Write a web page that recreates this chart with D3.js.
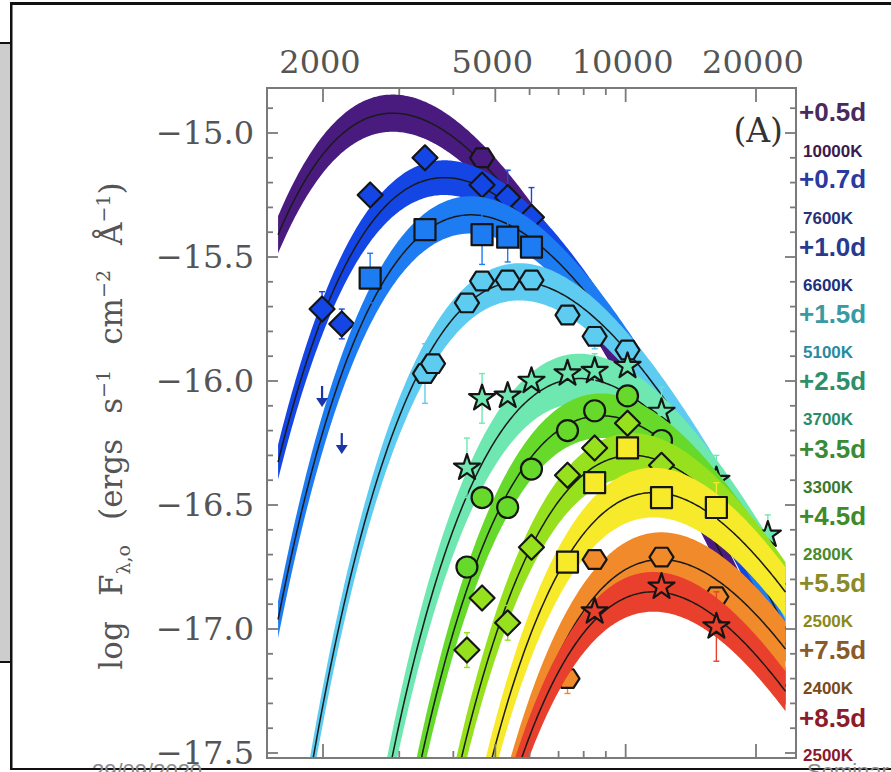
<!DOCTYPE html>
<html>
<head>
<meta charset="utf-8">
<script src="https://cdn.jsdelivr.net/npm/d3@7"></script>
<style>
  html, body { margin: 0; padding: 0; background: #fff; }
  svg { display: block; }
</style>
</head>
<body>
<div id="chart"></div>
<script>
// filters (effective wavelength, Angstrom)
const filterNames = ["W2", "M2", "W1", "U", "u", "B", "g", "V", "r", "i", "z", "Y", "J", "H", "K"];
const filterWave = [1990, 2210, 2570, 3440, 3590, 4300, 4660, 5340, 6060, 7340, 8480, 10100, 12100, 16200, 21300];

// epochs and blackbody fits
const epochs = ["+0.5d", "+0.7d", "+1.0d", "+1.5d", "+2.5d", "+3.5d", "+4.5d", "+5.5d", "+7.5d", "+8.5d"];
const temps = [10000, 7600, 6600, 5100, 3700, 3300, 2800, 2500, 2400, 2500];
const peakLogF = [-14.92, -15.18, -15.33, -15.60, -15.99, -16.14, -16.30, -16.45, -16.72, -16.85];
const bandHalf = [0.075, 0.07, 0.075, 0.075, 0.1, 0.09, 0.09, 0.1, 0.11, 0.08];
const symbols = ["hexagon", "diamond", "square", "hexagon", "star", "circle", "diamond", "square", "hexagon", "star"];
const bandColors = ["#4a1b7e", "#1446e6", "#1e7cf2", "#5ecbf0", "#6ee8b0", "#66d92a", "#96e01e", "#f6ea2a", "#f08a2a", "#e8402c"];
const dayColors = ["#4a2a5e", "#2a3aa0", "#283a8e", "#3a9aa2", "#2f8f68", "#3a8a36", "#3f8a2a", "#8a8a2a", "#8a5a2a", "#8c1c2c"];
const tempColors = ["#3a1a4c", "#283278", "#20307c", "#2a8aa2", "#2a8a6a", "#3a7a2a", "#4a8a2a", "#8a8a1a", "#7a4a1a", "#8a1a2a"];

// photometry: [filter, log F, error]
const phot05 = [["g", -15.10, 0]];
const phot07 = [["W2", -15.71, 0.07], ["M2", -15.77, 0.06], ["W1", -15.25, 0], ["U", -15.10, 0], ["g", -15.21, 0], ["V", -15.26, 0.11], ["r", -15.34, 0.12]];
const phot10 = [["W1", -15.585, 0.1], ["U", -15.39, 0], ["g", -15.41, 0.12], ["V", -15.42, 0.1], ["r", -15.46, 0]];
const phot15 = [["U", -15.97, 0.12], ["u", -15.93, 0], ["B", -15.685, 0], ["g", -15.597, 0], ["V", -15.593, 0], ["r", -15.593, 0], ["i", -15.734, 0], ["z", -15.82, 0.05], ["Y", -15.875, 0]];
const phot25 = [["B", -16.35, 0.12], ["g", -16.07, 0.1], ["V", -16.06, 0], ["r", -16.00, 0], ["i", -15.97, 0], ["z", -15.96, 0.07], ["Y", -15.94, 0], ["J", -16.125, 0.1], ["H", -16.40, 0.1], ["K", -16.62, 0.08]];
const phot35 = [["B", -16.75, 0], ["g", -16.47, 0], ["V", -16.51, 0], ["r", -16.355, 0], ["i", -16.20, 0], ["z", -16.12, 0], ["Y", -16.06, 0], ["J", -16.24, 0]];
const phot45 = [["B", -17.085, 0.07], ["g", -16.875, 0], ["V", -16.975, 0.07], ["r", -16.67, 0], ["i", -16.38, 0], ["z", -16.27, 0], ["Y", -16.17, 0], ["J", -16.34, 0]];
const phot55 = [["i", -16.73, 0], ["z", -16.41, 0], ["Y", -16.27, 0], ["J", -16.47, 0], ["H", -16.51, 0.1]];
const phot75 = [["i", -17.20, 0.06], ["z", -16.72, 0], ["J", -16.71, 0], ["H", -16.87, 0]];
const phot85 = [["z", -16.93, 0], ["J", -16.83, 0], ["H", -16.99, 0.14]];
const photometry = [phot05, phot07, phot10, phot15, phot25, phot35, phot45, phot55, phot75, phot85];
const upperLimits = [["W2", -16.02], ["M2", -16.21]];

const xMajor = [2000, 5000, 10000, 20000];
const xMinor = [3000, 4000, 6000, 7000, 8000, 9000];
const yMajor = [-17.5, -17.0, -16.5, -16.0, -15.5, -15.0];

const W = 891, H = 772;
const frame = { left: 267, right: 796, top: 88, bottom: 758 };
const lamRange = [1575, 23400];

const svg = d3.select("#chart").append("svg").attr("width", W).attr("height", H);
svg.append("rect").attr("width", W).attr("height", H).attr("fill", "#fff");

// slide decoration
svg.append("rect").attr("x", 0).attr("y", 44).attr("width", 10).attr("height", 617).attr("fill", "#cdcdcd");
svg.append("rect").attr("x", 0).attr("y", 42).attr("width", 11).attr("height", 2).attr("fill", "#111");
svg.append("rect").attr("x", 0).attr("y", 661).attr("width", 11).attr("height", 2).attr("fill", "#111");
svg.append("rect").attr("x", 10).attr("y", 2).attr("width", W - 10).attr("height", 3).attr("fill", "#111");
svg.append("rect").attr("x", 10).attr("y", 2).attr("width", 2.5).attr("height", 768).attr("fill", "#111");
svg.append("rect").attr("x", 10).attr("y", 768).attr("width", W - 10).attr("height", 2).attr("fill", "#111");

const x = d3.scaleLog().domain([2000, 20000]).range([323, 756]);
const y = d3.scaleLinear().domain([-17.5, -15.0]).range([753, 133]);
const waveOf = f => filterWave[filterNames.indexOf(f)];

svg.append("defs").append("clipPath").attr("id", "plotclip")
  .append("rect")
  .attr("x", frame.left).attr("y", frame.top)
  .attr("width", frame.right - frame.left).attr("height", frame.bottom - frame.top);

function logBB(lam, T) {
  return -5 * Math.log10(lam) - Math.log10(Math.expm1(1.4388e8 / (lam * T)));
}

const grid = d3.range(0, 301).map(i => lamRange[0] * Math.pow(lamRange[1] / lamRange[0], i / 300));

function symbolPath(kind) {
  if (kind === "hexagon") {
    const r = 12;
    return d3.line()(d3.range(6).map(k => [r * Math.cos(k * Math.PI / 3), r * Math.sin(k * Math.PI / 3) * 0.9])) + "Z";
  }
  if (kind === "diamond") {
    const r = 12.5;
    return `M0,${-r}L${r},0L0,${r}L${-r},0Z`;
  }
  if (kind === "square") return d3.symbol(d3.symbolSquare, 441)();
  if (kind === "circle") return d3.symbol(d3.symbolCircle, Math.PI * 10.5 * 10.5)();
  return d3.symbol(d3.symbolStar, 210)();
}

const plot = svg.append("g").attr("clip-path", "url(#plotclip)");

epochs.forEach((ep, i) => {
  const T = temps[i];
  const lp = 2.8978e7 / T;
  const model = grid.map(l => [l, peakLogF[i] + logBB(l, T) - logBB(lp, T)]);
  const g = plot.append("g").attr("class", "epoch");

  g.append("path")
    .datum(model)
    .attr("fill", bandColors[i])
    .attr("d", d3.area()
      .x(d => x(d[0]))
      .y0(d => y(d[1] - bandHalf[i]))
      .y1(d => y(d[1] + bandHalf[i])));

  g.append("path")
    .datum(model)
    .attr("fill", "none")
    .attr("stroke", "#1a1a1a")
    .attr("stroke-width", 1.5)
    .attr("d", d3.line().x(d => x(d[0])).y(d => y(d[1])));

  const pts = photometry[i];
  const eb = g.selectAll("g.err").data(pts.filter(d => d[2] > 0)).join("g").attr("class", "err")
    .attr("stroke", bandColors[i]).attr("stroke-width", 1.4);
  eb.append("line")
    .attr("x1", d => x(waveOf(d[0]))).attr("x2", d => x(waveOf(d[0])))
    .attr("y1", d => y(d[1] - d[2])).attr("y2", d => y(d[1] + d[2]));
  eb.append("line")
    .attr("x1", d => x(waveOf(d[0])) - 3).attr("x2", d => x(waveOf(d[0])) + 3)
    .attr("y1", d => y(d[1] + d[2])).attr("y2", d => y(d[1] + d[2]));
  eb.append("line")
    .attr("x1", d => x(waveOf(d[0])) - 3).attr("x2", d => x(waveOf(d[0])) + 3)
    .attr("y1", d => y(d[1] - d[2])).attr("y2", d => y(d[1] - d[2]));

  g.selectAll("path.pt").data(pts).join("path").attr("class", "pt")
    .attr("d", symbolPath(symbols[i]))
    .attr("transform", d => `translate(${x(waveOf(d[0]))},${y(d[1])})`)
    .attr("fill", bandColors[i])
    .attr("stroke", "#151515")
    .attr("stroke-width", 2.2)
    .attr("stroke-linejoin", "round");
});

// upper limits
const ul = plot.append("g").attr("stroke", "#1a36a8").attr("fill", "#1a36a8").attr("stroke-width", 2.2);
upperLimits.forEach(d => {
  const px = x(waveOf(d[0])), py = y(d[1]);
  ul.append("line").attr("x1", px).attr("x2", px).attr("y1", py).attr("y2", py + 18);
  ul.append("path").attr("stroke", "none")
    .attr("d", `M${px - 6},${py + 12}L${px + 6},${py + 12}L${px},${py + 21}Z`);
});

// frame and ticks
const axisColor = "#7a7a7a";
svg.append("rect")
  .attr("x", frame.left).attr("y", frame.top)
  .attr("width", frame.right - frame.left).attr("height", frame.bottom - frame.top)
  .attr("fill", "none").attr("stroke", axisColor).attr("stroke-width", 2);

const ticks = svg.append("g").attr("stroke", axisColor).attr("stroke-width", 1.8);
xMajor.concat(xMinor).forEach(v => {
  const len = xMajor.includes(v) ? 14 : 7;
  ticks.append("line").attr("x1", x(v)).attr("x2", x(v)).attr("y1", frame.top).attr("y2", frame.top + len);
  ticks.append("line").attr("x1", x(v)).attr("x2", x(v)).attr("y1", frame.bottom).attr("y2", frame.bottom - len);
});
d3.range(-175, -148).map(v => v / 10).forEach(v => {
  const major = Math.abs(v * 2 - Math.round(v * 2)) < 1e-6;
  const len = major ? 11 : 6;
  ticks.append("line").attr("x1", frame.left).attr("x2", frame.left + len).attr("y1", y(v)).attr("y2", y(v));
  ticks.append("line").attr("x1", frame.right).attr("x2", frame.right - len).attr("y1", y(v)).attr("y2", y(v));
});

const serif = "'DejaVu Serif', 'Liberation Serif', serif";
svg.append("g").selectAll("text").data(xMajor).join("text")
  .attr("x", d => x(d) - 3).attr("y", 73)
  .attr("text-anchor", "middle")
  .attr("font-family", serif).attr("font-size", 32).attr("fill", "#555")
  .text(d => d);

svg.append("g").selectAll("text").data(yMajor).join("text")
  .attr("x", 254).attr("y", d => y(d) + 11)
  .attr("text-anchor", "end")
  .attr("font-family", serif).attr("font-size", 32).attr("fill", "#555")
  .text(d => "\u2212" + Math.abs(d).toFixed(1));

// y axis title
const yt = svg.append("text")
  .attr("transform", "translate(122,426) rotate(-90)")
  .attr("text-anchor", "middle")
  .attr("font-family", serif).attr("font-size", 31).attr("fill", "#555");
yt.append("tspan").text("log F");
yt.append("tspan").attr("dy", 8).attr("font-size", 19).text("\u03bb,o");
yt.append("tspan").attr("dy", -8).text(" (ergs s");
yt.append("tspan").attr("dy", -12).attr("font-size", 19).text("\u22121");
yt.append("tspan").attr("dy", 12).text(" cm");
yt.append("tspan").attr("dy", -12).attr("font-size", 19).text("\u22122");
yt.append("tspan").attr("dy", 12).text(" \u00c5");
yt.append("tspan").attr("dy", -12).attr("font-size", 19).text("\u22121");
yt.append("tspan").attr("dy", 12).text(")");
const len0 = yt.node().getComputedTextLength();
yt.attr("word-spacing", Math.max(0, (472 - len0) / 4));

svg.append("text")
  .attr("x", 783).attr("y", 142)
  .attr("text-anchor", "end")
  .attr("font-family", serif).attr("font-size", 33).attr("fill", "#333")
  .text("(A)");

// right-hand labels
const sans = "'Liberation Sans', Arial, sans-serif";
svg.append("g").selectAll("text").data(epochs).join("text")
  .attr("x", 799).attr("y", (d, i) => 121 + i * 67.3)
  .attr("font-family", sans).attr("font-weight", "bold").attr("font-size", 26)
  .attr("fill", (d, i) => dayColors[i])
  .text(d => d);
svg.append("g").selectAll("text").data(temps).join("text")
  .attr("x", 803).attr("y", (d, i) => 157 + i * 67.1)
  .attr("font-family", sans).attr("font-weight", "bold").attr("font-size", 17)
  .attr("fill", (d, i) => tempColors[i])
  .text(d => d + "K");

// footer (cut by the screenshot edge, as in the slide)
svg.append("text").attr("x", 92).attr("y", 779)
  .attr("font-family", sans).attr("font-size", 22).attr("fill", "#8a8a8a").text("29/09/2020");
svg.append("text").attr("x", 807).attr("y", 779)
  .attr("font-family", sans).attr("font-size", 22).attr("fill", "#8a8a8a").text("Seminar");
</script>
</body>
</html>
